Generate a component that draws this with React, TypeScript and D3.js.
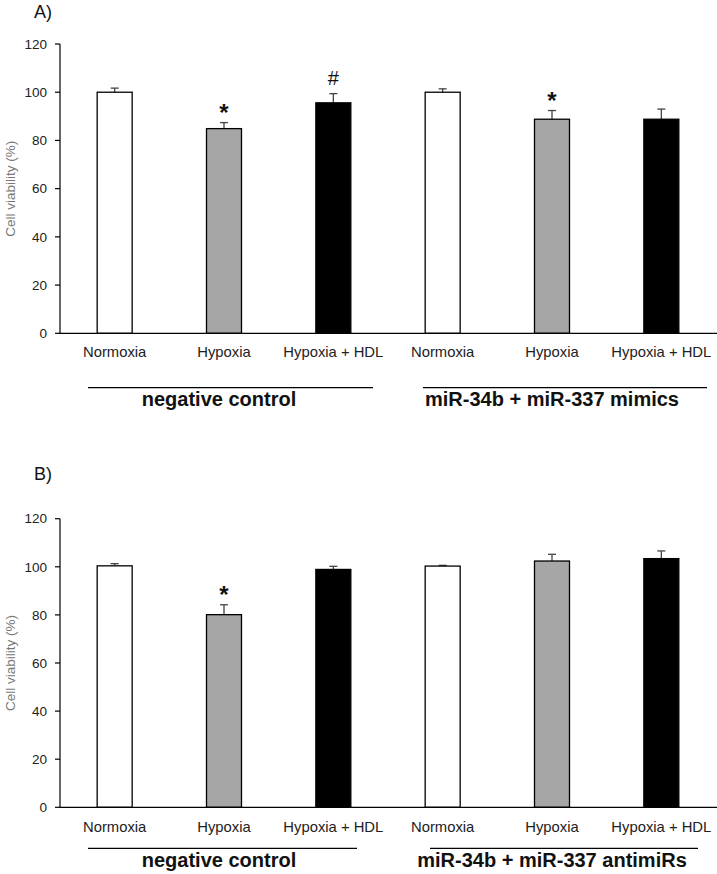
import React from "react";
import * as d3 from "d3";

const categories = ["Normoxia", "Hypoxia", "Hypoxia + HDL", "Normoxia", "Hypoxia", "Hypoxia + HDL"];
const yTicks = [0, 20, 40, 60, 80, 100, 120];

// panel A
const valuesA = [100, 84.9, 95.6, 100, 88.8, 88.8];
const errorsA = [1.7, 2.5, 3.8, 1.4, 3.6, 4.2];
const marksA = ["", "*", "#", "", "*", ""];
const groupsA = ["negative control", "miR-34b + miR-337 mimics"];

// panel B
const valuesB = [100.4, 80.1, 98.9, 100.3, 102.4, 103.4];
const errorsB = [0.9, 4.1, 1.3, 0.3, 2.8, 3.2];
const marksB = ["", "*", "", "", "", ""];
const groupsB = ["negative control", "miR-34b + miR-337 antimiRs"];

const fills = ["#ffffff", "#a6a6a6", "#000000"];
const font = "'Liberation Sans', Arial, sans-serif";

const x = d3
  .scaleBand<number>()
  .domain(d3.range(categories.length))
  .range([60, 716])
  .paddingInner(0.68)
  .paddingOuter(0.34);

type PanelProps = {
  letter: string;
  letterY: number;
  y0: number;
  y120: number;
  values: number[];
  errors: number[];
  marks: string[];
  groups: string[];
  groupLines: [number, number][];
  labelY: number;
  lineY: number;
  titleY: number;
};

const Panel = (p: PanelProps) => {
  const y = d3.scaleLinear().domain([0, 120]).range([p.y0, p.y120]);
  const bw = x.bandwidth();
  return (
    <g>
      <text x={34} y={p.letterY} fontSize={18} fontFamily={font} fill="#111">
        {p.letter}
      </text>
      <text
        transform={`translate(15,${(p.y0 + p.y120) / 2}) rotate(-90)`}
        textAnchor="middle"
        fontSize={13.5}
        fontFamily={font}
        fill="#777"
      >
        Cell viability (%)
      </text>
      {/* y axis */}
      <line x1={60} x2={60} y1={p.y120} y2={p.y0} stroke="#000" strokeWidth={1.2} />
      {yTicks.map((t) => (
        <g key={t}>
          <line x1={55} x2={60} y1={y(t)} y2={y(t)} stroke="#000" strokeWidth={1.2} />
          <text
            x={47}
            y={y(t)}
            dy="0.35em"
            textAnchor="end"
            fontSize={13.5}
            fontFamily={font}
            fill="#222"
          >
            {t}
          </text>
        </g>
      ))}
      {/* bars */}
      {p.values.map((v, i) => {
        const bx = x(i)!;
        const cx = bx + bw / 2;
        const top = y(v + p.errors[i]);
        return (
          <g key={i}>
            <line x1={cx} x2={cx} y1={y(v)} y2={top} stroke="#444" strokeWidth={1.3} />
            <line x1={cx - 4} x2={cx + 4} y1={top} y2={top} stroke="#444" strokeWidth={1.3} />
            <rect
              x={bx}
              y={y(v)}
              width={bw}
              height={p.y0 - y(v)}
              fill={fills[i % 3]}
              stroke="#000"
              strokeWidth={1.3}
            />
            {p.marks[i] === "*" && (
              <text x={cx} y={top - 2} textAnchor="middle" fontSize={24} fontWeight="bold" fontFamily={font} fill="#111">
                *
              </text>
            )}
            {p.marks[i] === "#" && (
              <text x={cx} y={top - 9} textAnchor="middle" fontSize={20} fontFamily={font} fill="#111">
                #
              </text>
            )}
          </g>
        );
      })}
      {/* x axis */}
      <line x1={60} x2={717} y1={p.y0} y2={p.y0} stroke="#000" strokeWidth={1.2} />
      {categories.map((c, i) => (
        <text
          key={i}
          x={x(i)! + bw / 2}
          y={p.labelY}
          textAnchor="middle"
          fontSize={14.8}
          fontFamily={font}
          fill="#222"
        >
          {c}
        </text>
      ))}
      {p.groups.map((g, gi) => {
        const [a, b] = p.groupLines[gi];
        return (
          <g key={gi}>
            <line x1={a} x2={b} y1={p.lineY} y2={p.lineY} stroke="#000" strokeWidth={1.2} />
            <text
              x={(x(gi * 3)! + x(gi * 3 + 2)! + bw) / 2 + (gi === 0 ? -5 : 0)}
              y={p.titleY}
              textAnchor="middle"
              fontSize={20}
              fontWeight="bold"
              fontFamily={font}
              fill="#111"
            >
              {g}
            </text>
          </g>
        );
      })}
    </g>
  );
};

const App = () => {
  return (
    <svg
      width={717}
      height={874}
      style={{ position: "absolute", left: 0, top: 0, background: "#fff" }}
    >
      <rect width={717} height={874} fill="#fff" />
      <Panel
        letter="A)"
        letterY={18}
        y0={333.3}
        y120={44}
        values={valuesA}
        errors={errorsA}
        marks={marksA}
        groups={groupsA}
        groupLines={[
          [88, 373],
          [423, 707],
        ]}
        labelY={357}
        lineY={387.7}
        titleY={406}
      />
      <Panel
        letter="B)"
        letterY={480}
        y0={807.3}
        y120={518.7}
        values={valuesB}
        errors={errorsB}
        marks={marksB}
        groups={groupsB}
        groupLines={[
          [88, 357],
          [430, 698],
        ]}
        labelY={832}
        lineY={848.3}
        titleY={867}
      />
    </svg>
  );
};

export default App;
